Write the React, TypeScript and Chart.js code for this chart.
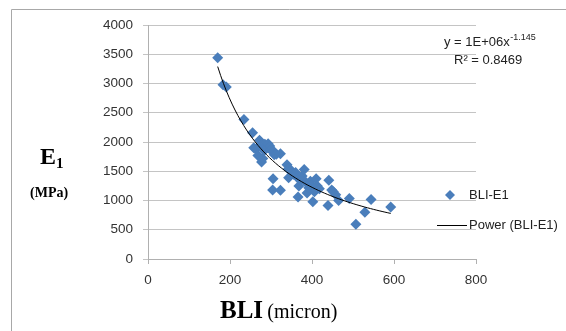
import React, { useEffect, useRef } from "react";
import { Chart, registerables } from "chart.js";

Chart.register(...registerables);

// BLI (micron) values
const BLI: number[] = [
  170, 183, 191, 234, 255, 258, 263, 268, 272, 275, 277, 280, 283, 285, 290,
  293, 297, 300, 305, 308, 313, 323, 305, 304, 323, 339, 342, 343, 349, 355,
  360, 363, 366, 368, 372, 376, 381, 385, 388, 392, 396, 400, 402, 406, 410,
  413, 418, 441, 448, 452, 458, 465, 439, 491, 529, 507, 544, 592,
];
// E1 (MPa) values
const E1: number[] = [
  3440, 2980, 2940, 2385, 2160, 1900, 1880, 1770, 2030, 1950, 1660, 1720, 1850, 1960, 1900,
  1970, 1930, 1860, 1850, 1780, 1790, 1800, 1370, 1180, 1175, 1610, 1540, 1390, 1515, 1450,
  1480, 1400, 1060, 1250, 1340, 1420, 1530, 1310, 1130, 1220, 1330, 1260, 980, 1150, 1370,
  1250, 1200, 1345, 1180, 1150, 1100, 1000, 915, 1035, 800, 595, 1015, 890,
];

const X_TICKS: number[] = [0, 200, 400, 600, 800];
const Y_TICKS: number[] = [0, 500, 1000, 1500, 2000, 2500, 3000, 3500, 4000];

const SERIES_NAME = "BLI-E1";
const TREND_NAME = "Power (BLI-E1)";
const EQ_TEXT = "y = 1E+06x";
const EQ_EXP = "-1.145";
const R2_TEXT = "R² = 0.8469";

const BLUE = "#4a7ebb";

// power regression (least squares in log-log space), like a spreadsheet trendline
function powerFit(xs: number[], ys: number[]) {
  const n = xs.length;
  let sx = 0, sy = 0, sxx = 0, sxy = 0;
  for (let i = 0; i < n; i++) {
    const lx = Math.log(xs[i]);
    const ly = Math.log(ys[i]);
    sx += lx; sy += ly; sxx += lx * lx; sxy += lx * ly;
  }
  const b = (n * sxy - sx * sy) / (n * sxx - sx * sx);
  const lnA = (sy - b * sx) / n;
  return { a: Math.exp(lnA), b };
}

export default function App() {
  const ref = useRef<HTMLCanvasElement | null>(null);

  useEffect(() => {
    document.body.style.margin = "0";
    const canvas = ref.current;
    if (!canvas) return;

    const points = BLI.map((x, i) => ({ x, y: E1[i] }));
    const fit = powerFit(BLI, E1);
    const xmin = Math.min(...BLI);
    const xmax = Math.max(...BLI);
    const trend: { x: number; y: number }[] = [];
    const steps = 60;
    for (let i = 0; i <= steps; i++) {
      const x = xmin + ((xmax - xmin) * i) / steps;
      trend.push({ x, y: fit.a * Math.pow(x, fit.b) });
    }

    const overlay = {
      id: "overlay",
      afterDraw(chart: any) {
        const ctx = chart.ctx as CanvasRenderingContext2D;
        ctx.save();
        // outer frame
        ctx.strokeStyle = "#a8a8a8";
        ctx.lineWidth = 1;
        ctx.beginPath();
        ctx.moveTo(11.5, 340);
        ctx.lineTo(11.5, 9.5);
        ctx.lineTo(580, 9.5);
        ctx.stroke();

        // y title E1
        ctx.fillStyle = "#000";
        ctx.textBaseline = "alphabetic";
        ctx.textAlign = "left";
        ctx.font = "bold 24px 'Liberation Serif', 'DejaVu Serif', serif";
        ctx.fillText("E", 40, 164);
        ctx.font = "bold 15px 'Liberation Serif', 'DejaVu Serif', serif";
        ctx.fillText("1", 56, 168);
        ctx.font = "bold 14px 'Liberation Serif', 'DejaVu Serif', serif";
        ctx.fillText("(MPa)", 30, 197);

        // x title
        ctx.font = "bold 25px 'Liberation Serif', 'DejaVu Serif', serif";
        ctx.fillText("BLI", 220, 318);
        const w = ctx.measureText("BLI ").width;
        ctx.font = "20px 'Liberation Serif', 'DejaVu Serif', serif";
        ctx.fillText("(micron)", 220 + w - 2, 318);

        // equation
        ctx.fillStyle = "#222";
        ctx.font = "13px 'Liberation Sans', Arial, sans-serif";
        ctx.fillText(EQ_TEXT, 444, 46);
        const ew = ctx.measureText(EQ_TEXT).width;
        ctx.font = "9px 'Liberation Sans', Arial, sans-serif";
        ctx.fillText(EQ_EXP, 444 + ew + 0.5, 40);
        ctx.font = "13px 'Liberation Sans', Arial, sans-serif";
        ctx.fillText(R2_TEXT, 454, 64);

        // legend
        ctx.fillStyle = BLUE;
        ctx.beginPath();
        const cx = 450, cy = 195, r = 5;
        ctx.moveTo(cx, cy - r);
        ctx.lineTo(cx + r, cy);
        ctx.lineTo(cx, cy + r);
        ctx.lineTo(cx - r, cy);
        ctx.closePath();
        ctx.fill();
        ctx.fillStyle = "#222";
        ctx.textBaseline = "middle";
        ctx.fillText(SERIES_NAME, 469, 195);
        ctx.strokeStyle = "#000";
        ctx.lineWidth = 1;
        ctx.beginPath();
        ctx.moveTo(437, 225.5);
        ctx.lineTo(467, 225.5);
        ctx.stroke();
        ctx.fillText(TREND_NAME, 469, 225);
        ctx.restore();
      },
    };

    const chart = new Chart(canvas, {
      type: "scatter",
      data: {
        datasets: [
          {
            label: SERIES_NAME,
            data: points,
            pointStyle: "rectRot",
            pointRadius: 5.5,
            backgroundColor: BLUE,
            borderColor: BLUE,
            borderWidth: 0,
            order: 1,
          },
          {
            label: TREND_NAME,
            type: "line",
            data: trend,
            borderColor: "#000",
            borderWidth: 1,
            pointRadius: 0,
            fill: false,
            tension: 0,
            order: 0,
          } as any,
        ],
      },
      options: {
        responsive: false,
        animation: false,
        events: [],
        layout: { padding: { left: 0, top: 25, right: 90, bottom: 0 } },
        plugins: {
          legend: { display: false },
          tooltip: { enabled: false },
          title: { display: false },
        },
        scales: {
          x: {
            type: "linear",
            min: 0,
            max: 800,
            afterFit: (s: any) => { s.height = 72; },
            afterBuildTicks: (s: any) => { s.ticks = X_TICKS.map((v) => ({ value: v })); },
            grid: {
              display: true,
              drawOnChartArea: false,
              drawTicks: true,
              tickLength: 5,
              color: "#b0b0b0",
            },
            border: { display: true, color: "#b0b0b0" },
            ticks: {
              color: "#333",
              font: { family: "'Liberation Sans', Arial, sans-serif", size: 13.5 },
              padding: 8,
              maxRotation: 0,
              callback: (v: any) => String(v),
            },
          },
          y: {
            type: "linear",
            min: 0,
            max: 4000,
            afterFit: (s: any) => { s.width = 148; },
            afterBuildTicks: (s: any) => { s.ticks = Y_TICKS.map((v) => ({ value: v })); },
            grid: {
              color: "#c4c4c4",
              drawTicks: true,
              tickLength: 5,
            },
            border: { display: true, color: "#b0b0b0" },
            ticks: {
              color: "#333",
              font: { family: "'Liberation Sans', Arial, sans-serif", size: 13.5 },
              padding: 10,
              callback: (v: any) => String(v),
            },
          },
        },
      },
      plugins: [overlay],
    });

    return () => chart.destroy();
  }, []);

  return (
    <div style={{ width: 566, height: 331, background: "#fff" }}>
      <canvas ref={ref} width={566} height={331} style={{ display: "block", width: 566, height: 331 }} />
    </div>
  );
}
